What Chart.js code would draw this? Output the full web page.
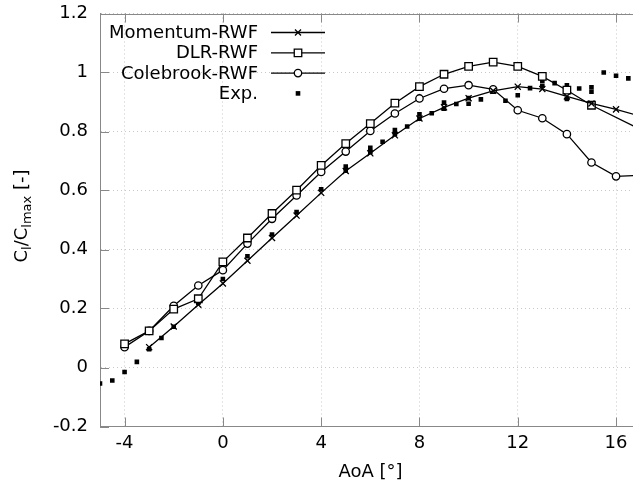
<!DOCTYPE html>
<html>
<head>
<meta charset="utf-8">
<script src="https://cdn.jsdelivr.net/npm/chart.js@4.4.1/dist/chart.umd.min.js"></script>
<style>
  html, body { margin: 0; padding: 0; background: #fff; }
  #wrap { width: 633px; height: 491px; }
</style>
</head>
<body>
<div id="wrap"><canvas id="clChart" width="633" height="491"></canvas></div>
<script>
// angle of attack for the computed curves
const aoaMomentum = [-3, -2, -1, 0, 1, 2, 3, 4, 5, 6, 7, 8, 9, 10, 11, 12, 13, 14, 15, 16, 17];
const momentumRWF = [0.069, 0.139, 0.213, 0.285, 0.362, 0.439, 0.515, 0.592, 0.666, 0.726, 0.787, 0.844, 0.882, 0.913, 0.938, 0.952, 0.944, 0.919, 0.895, 0.875, 0.852];

const aoaDLR = [-4, -3, -2, -1, 0, 1, 2, 3, 4, 5, 6, 7, 8, 9, 10, 11, 12, 13, 14, 15, 17];
const dlrRWF = [0.08, 0.124, 0.198, 0.233, 0.358, 0.439, 0.522, 0.601, 0.685, 0.759, 0.827, 0.896, 0.952, 0.994, 1.021, 1.035, 1.021, 0.987, 0.94, 0.889, 0.807];

const aoaColebrook = [-4, -3, -2, -1, 0, 1, 2, 3, 4, 5, 6, 7, 8, 9, 10, 11, 12, 13, 14, 15, 16, 17];
const colebrookRWF = [0.069, 0.124, 0.209, 0.278, 0.33, 0.42, 0.504, 0.583, 0.663, 0.732, 0.802, 0.861, 0.912, 0.945, 0.957, 0.943, 0.872, 0.845, 0.791, 0.695, 0.648, 0.652];

// measurements
const aoaExp = [-5, -4.5, -4, -3.5, -3, -2.5, -2, -1, 0, 1, 2, 3, 4, 5, 5, 6, 6, 6.5, 7, 7, 7.5, 8, 8, 8.5, 9, 9, 9.5, 10, 10, 10.5, 11, 11.5, 12, 12.5, 13, 13, 13.5, 14, 14, 14.5, 15, 15, 15.5, 16, 16.5];
const clExp = [-0.054, -0.044, -0.015, 0.019, 0.062, 0.1, 0.138, 0.22, 0.3, 0.377, 0.451, 0.527, 0.604, 0.681, 0.667, 0.745, 0.73, 0.765, 0.805, 0.791, 0.817, 0.858, 0.843, 0.862, 0.898, 0.877, 0.893, 0.913, 0.894, 0.909, 0.935, 0.904, 0.923, 0.947, 0.972, 0.955, 0.964, 0.957, 0.91, 0.946, 0.95, 0.935, 1.0, 0.989, 0.98];

const xTicks = [-4, 0, 4, 8, 12, 16];
const yTicks = [-0.2, 0, 0.2, 0.4, 0.6, 0.8, 1, 1.2];

const FONT = "DejaVu Sans";
const FONT_SIZE = 18;
const AXIS_GREY = "#888";

function toPoints(xs, ys) {
  return xs.map((x, i) => ({ x: x, y: ys[i] }));
}

// little helpers for the legend symbols
function drawMarker(ctx, style, x, y) {
  ctx.save();
  ctx.lineWidth = 1.3;
  ctx.strokeStyle = "#000";
  ctx.beginPath();
  if (style === "cross") {
    ctx.moveTo(x - 3, y - 3); ctx.lineTo(x + 3, y + 3);
    ctx.moveTo(x - 3, y + 3); ctx.lineTo(x + 3, y - 3);
    ctx.stroke();
  } else if (style === "square") {
    ctx.fillStyle = "#fff";
    ctx.rect(x - 3.75, y - 3.75, 7.5, 7.5);
    ctx.fill(); ctx.stroke();
  } else if (style === "circle") {
    ctx.fillStyle = "#fff";
    ctx.arc(x, y, 3.7, 0, Math.PI * 2);
    ctx.fill(); ctx.stroke();
  } else {
    ctx.fillStyle = "#000";
    ctx.fillRect(x - 2.3, y - 2.3, 4.6, 4.6);
  }
  ctx.restore();
}

const legendItems = [
  { label: "Momentum-RWF", marker: "cross", line: true },
  { label: "DLR-RWF", marker: "square", line: true },
  { label: "Colebrook-RWF", marker: "circle", line: true },
  { label: "Exp.", marker: "dot", line: false },
];

const framePlugin = {
  id: "frame",
  beforeDatasetsDraw(chart) {
    const { ctx, chartArea: a, scales: { x, y } } = chart;
    ctx.save();
    ctx.strokeStyle = AXIS_GREY;
    ctx.lineWidth = 1;
    ctx.beginPath();
    // top border (right side is cut off in the original)
    ctx.moveTo(a.left, Math.round(a.top) + 0.5);
    ctx.lineTo(a.right, Math.round(a.top) + 0.5);
    // inward ticks
    xTicks.forEach((v) => {
      const px = Math.round(x.getPixelForValue(v)) + 0.5;
      ctx.moveTo(px, a.bottom); ctx.lineTo(px, a.bottom - 9);
      ctx.moveTo(px, a.top); ctx.lineTo(px, a.top + 9);
    });
    yTicks.forEach((v) => {
      const py = Math.round(y.getPixelForValue(v)) + 0.5;
      ctx.moveTo(a.left, py); ctx.lineTo(a.left + 9, py);
    });
    ctx.stroke();
    ctx.restore();
  },
  afterDraw(chart) {
    const { ctx, chartArea: a } = chart;
    const big = FONT_SIZE + "px '" + FONT + "'";
    const small = "13px '" + FONT + "'";
    ctx.save();
    ctx.fillStyle = "#000";

    // x title
    ctx.font = big;
    ctx.textAlign = "center";
    ctx.textBaseline = "middle";
    ctx.fillText("AoA [°]", (a.left + a.right) / 2 + 4, 472);

    // y title with subscripts
    const parts = [
      { t: "C", sub: false }, { t: "l", sub: true },
      { t: "/C", sub: false }, { t: "lmax", sub: true },
      { t: " [-]", sub: false },
    ];
    let total = 0;
    parts.forEach((p) => { ctx.font = p.sub ? small : big; p.w = ctx.measureText(p.t).width; total += p.w; });
    ctx.translate(21, 216);
    ctx.rotate(-Math.PI / 2);
    ctx.textAlign = "left";
    ctx.textBaseline = "alphabetic";
    let cx = -total / 2;
    parts.forEach((p) => {
      ctx.font = p.sub ? small : big;
      ctx.fillText(p.t, cx, p.sub ? 10 : 6);
      cx += p.w;
    });
    ctx.setTransform(1, 0, 0, 1, 0, 0);

    // legend, top left inside the frame
    ctx.font = big;
    ctx.textAlign = "right";
    ctx.textBaseline = "middle";
    legendItems.forEach((item, i) => {
      const ly = 32.5 + i * 20.3;
      ctx.fillStyle = "#000";
      ctx.fillText(item.label, 258, ly + 1);
      if (item.line) {
        ctx.save();
        ctx.strokeStyle = "#000";
        ctx.lineWidth = 1.3;
        ctx.beginPath();
        ctx.moveTo(271, ly); ctx.lineTo(325, ly);
        ctx.stroke();
        ctx.restore();
      }
      drawMarker(ctx, item.marker, 298, ly);
    });
    ctx.restore();
  },
};

const lineSet = (label, xs, ys, style, radius) => ({
  label: label,
  data: toPoints(xs, ys),
  showLine: true,
  borderColor: "#000",
  borderWidth: 1.3,
  backgroundColor: "#fff",
  pointStyle: style,
  pointRadius: radius,
  pointHoverRadius: radius,
  pointBorderColor: "#000",
  pointBackgroundColor: "#fff",
  pointBorderWidth: 1.3,
  tension: 0,
});

const config = {
  type: "scatter",
  data: {
    datasets: [
      lineSet("Momentum-RWF", aoaMomentum, momentumRWF, "crossRot", 4.3),
      lineSet("DLR-RWF", aoaDLR, dlrRWF, "rect", 5.3),
      lineSet("Colebrook-RWF", aoaColebrook, colebrookRWF, "circle", 3.7),
      {
        label: "Exp.",
        data: toPoints(aoaExp, clExp),
        showLine: false,
        pointStyle: "rect",
        pointRadius: 3.25,
        pointHoverRadius: 3.25,
        pointBorderWidth: 0,
        pointBackgroundColor: "#000",
        backgroundColor: "#000",
        borderColor: "#000",
      },
    ],
  },
  options: {
    responsive: false,
    animation: false,
    devicePixelRatio: 1,
    layout: { autoPadding: false, padding: { top: 13.5, right: 0, left: 0, bottom: 0 } },
    plugins: { legend: { display: false }, tooltip: { enabled: false }, title: { display: false } },
    scales: {
      x: {
        type: "linear",
        min: -5,
        max: 16.69,
        afterBuildTicks: (scale) => { scale.ticks = xTicks.map((v) => ({ value: v })); },
        afterFit: (scale) => { scale.height = 64.5; scale.paddingLeft = 0; scale.paddingRight = 0; },
        ticks: {
          color: "#000",
          padding: 6,
          font: { family: FONT, size: FONT_SIZE },
          callback: (v) => String(v),
          maxRotation: 0,
        },
        grid: { color: "#c8c8c8", lineWidth: 1, drawTicks: false },
        border: { display: true, color: AXIS_GREY, width: 1, dash: [1, 3] },
      },
      y: {
        type: "linear",
        min: -0.2,
        max: 1.2,
        afterBuildTicks: (scale) => { scale.ticks = yTicks.map((v) => ({ value: v })); },
        afterFit: (scale) => { scale.width = 100; scale.paddingTop = 0; scale.paddingBottom = 0; },
        ticks: {
          color: "#000",
          padding: 12,
          font: { family: FONT, size: FONT_SIZE },
          callback: (v) => String(Math.round(v * 10) / 10),
        },
        grid: { color: "#c8c8c8", lineWidth: 1, drawTicks: false },
        border: { display: true, color: AXIS_GREY, width: 1, dash: [1, 3] },
      },
    },
  },
  plugins: [framePlugin],
};

const myChart = new Chart(document.getElementById("clChart"), config);
</script>
</body>
</html>
